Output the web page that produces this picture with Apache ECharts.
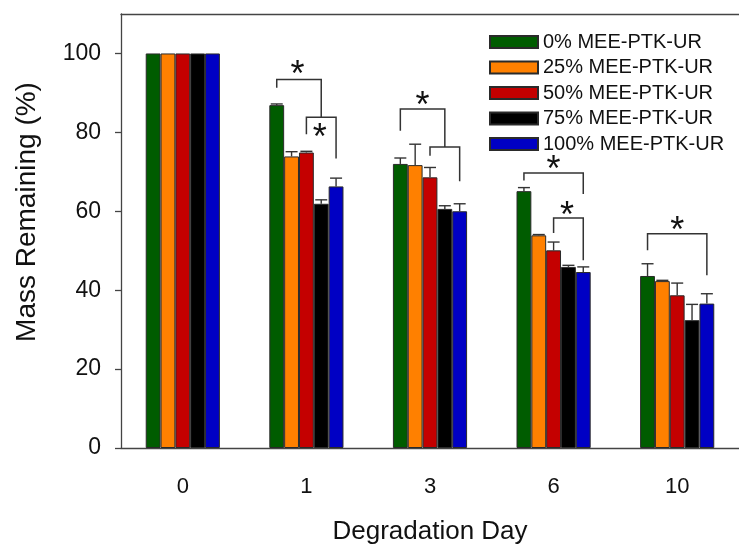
<!DOCTYPE html>
<html>
<head>
<meta charset="utf-8">
<title>Mass Remaining</title>
<script src="https://cdn.jsdelivr.net/npm/echarts@6/dist/echarts.min.js"></script>
<style>
  html, body { margin: 0; padding: 0; background: #fff; }
  #chart { width: 739px; height: 550px; }
</style>
</head>
<body>
<div id="chart"></div>
<script>
// 横轴分类与刻度
const days = ['0', '1', '3', '6', '10']
const yTicks = [0, 20, 40, 60, 80, 100]

// 各组名称
const groups = ['0% MEE-PTK-UR', '25% MEE-PTK-UR', '50% MEE-PTK-UR', '75% MEE-PTK-UR', '100% MEE-PTK-UR']
const colors = ['#005c00', '#ff8000', '#c40000', '#000000', '#0000c4']

// 剩余质量 (%)
const mee0 = [100, 86.9, 72.0, 65.1, 43.6]
const mee25 = [100, 73.9, 71.7, 53.9, 42.3]
const mee50 = [100, 74.9, 68.6, 50.1, 38.7]
const mee75 = [100, 61.9, 60.6, 45.9, 32.4]
const mee100 = [100, 66.3, 60.0, 44.6, 36.6]

// 误差 (只画上半)
const err0 = [0, 0.3, 1.5, 0.9, 3.1]
const err25 = [0, 1.2, 5.3, 0.2, 0.2]
const err50 = [0, 0.3, 2.5, 2.1, 3.1]
const err75 = [0, 1.0, 0.8, 0.4, 4.0]
const err100 = [0, 2.1, 1.9, 1.3, 2.5]

// 显著性括号: [日序号, 起始柱, 结束柱, 横线高度, 左腿底, 右腿底]
const brackets = [
  [1, 0, 3, 93.4, 91.3, 83.8],
  [1, 2, 4, 83.8, 79.5, 73.4],
  [2, 0, 3, 85.9, 80.4, 76.3],
  [2, 2, 4, 76.3, 74.1, 67.6],
  [3, 0, 4, 69.7, 67.8, 64.4],
  [3, 2, 4, 58.3, 54.5, 47.6],
  [4, 0, 4, 54.3, 50.1, 43.8]
]
// 星号: [日序号, 柱位置, 高度]
const stars = [
  [1, 1.4, 96.2],
  [1, 2.9, 80.4],
  [2, 1.5, 88.4],
  [3, 2.0, 72.2],
  [3, 2.9, 60.6],
  [4, 2.0, 56.8]
]

const values = [mee0, mee25, mee50, mee75, mee100]
const errors = [err0, err25, err50, err75, err100]

const FONT = 'Liberation Sans, Arial, sans-serif'
const GAP = 0.4 // barCategoryGap

const chart = echarts.init(document.getElementById('chart'))

// 柱在类目内的横向偏移
const slotX = (api, cat, pos) => {
  const band = api.size([1, 0])[0]
  const bw = band * (1 - GAP) / groups.length
  return api.coord([cat, 0])[0] + (pos - (groups.length - 1) / 2) * bw
}

const errData = []
errors.forEach((arr, s) => {
  arr.forEach((e, i) => {
    if (e > 0) errData.push([i, values[s][i], e, s])
  })
})

const barSeries = groups.map((name, s) => ({
  name,
  type: 'bar',
  data: values[s],
  barGap: 0,
  barCategoryGap: '40%',
  itemStyle: { color: colors[s], borderColor: '#2a2a2a', borderWidth: 1 }
}))

const option = {
  animation: false,
  textStyle: { fontFamily: FONT },
  grid: { left: 121, top: 14, width: 620, bottom: 100 },
  legend: {
    orient: 'vertical',
    left: 484,
    top: 27,
    itemWidth: 48,
    itemHeight: 12,
    itemGap: 5.5,
    icon: 'rect',
    textStyle: { fontSize: 20, color: '#111', fontFamily: FONT },
    data: groups
  },
  xAxis: [{
    type: 'category',
    data: days,
    name: 'Degradation Day',
    nameLocation: 'middle',
    nameGap: 71,
    nameTextStyle: { fontSize: 26, color: '#111', fontFamily: FONT },
    axisLine: { lineStyle: { color: '#444', width: 1.3 } },
    axisTick: { alignWithLabel: true, length: 6, lineStyle: { color: '#444', width: 1.3 } },
    axisLabel: { fontSize: 22, color: '#111', margin: 28, fontFamily: FONT }
  }, {
    type: 'category',
    data: days,
    position: 'top',
    axisLine: { lineStyle: { color: '#444', width: 1.3 } },
    axisTick: { show: false },
    axisLabel: { show: false }
  }],
  yAxis: {
    type: 'value',
    min: 0,
    max: 110,
    interval: 20,
    name: 'Mass Remaining (%)',
    nameLocation: 'middle',
    nameGap: 80,
    nameTextStyle: { fontSize: 28, color: '#111', fontFamily: FONT, padding: [0, 0, 0, 38] },
    axisLine: { show: true, lineStyle: { color: '#444', width: 1.3 } },
    axisTick: { show: true, length: 6, customValues: yTicks, lineStyle: { color: '#444', width: 1.3 } },
    axisLabel: { fontSize: 23, color: '#111', margin: 20, customValues: yTicks, fontFamily: FONT },
    splitLine: { show: false }
  },
  series: [
    ...barSeries,
    {
      // 误差线
      type: 'custom',
      silent: true,
      z: 5,
      encode: { x: 0, y: 1 },
      data: errData,
      renderItem: (params, api) => {
        const cat = api.value(0)
        const v = api.value(1)
        const e = api.value(2)
        const x = slotX(api, cat, api.value(3))
        const y0 = api.coord([cat, v])[1]
        const y1 = api.coord([cat, v + e])[1]
        const style = { stroke: '#333', lineWidth: 1.4 }
        return {
          type: 'group',
          children: [
            { type: 'line', shape: { x1: x, y1: y0, x2: x, y2: y1 }, style },
            { type: 'line', shape: { x1: x - 6, y1: y1, x2: x + 6, y2: y1 }, style }
          ]
        }
      }
    },
    {
      // 显著性括号
      type: 'custom',
      silent: true,
      z: 6,
      encode: { x: 0, y: 3 },
      data: brackets,
      renderItem: (params, api) => {
        const cat = api.value(0)
        const xa = slotX(api, cat, api.value(1))
        const xb = slotX(api, cat, api.value(2))
        const yt = api.coord([cat, api.value(3)])[1]
        const yl = api.coord([cat, api.value(4)])[1]
        const yr = api.coord([cat, api.value(5)])[1]
        return {
          type: 'polyline',
          shape: { points: [[xa, yl], [xa, yt], [xb, yt], [xb, yr]] },
          style: { stroke: '#333', lineWidth: 1.5, fill: null }
        }
      }
    },
    {
      // 星号
      type: 'custom',
      silent: true,
      z: 6,
      encode: { x: 0, y: 2 },
      data: stars,
      renderItem: (params, api) => {
        const cat = api.value(0)
        const x = slotX(api, cat, api.value(1))
        const y = api.coord([cat, api.value(2)])[1]
        return {
          type: 'text',
          style: {
            x, y: y + 8,
            text: '*',
            fontSize: 36,
            fontFamily: FONT,
            fill: '#111',
            align: 'center',
            verticalAlign: 'middle'
          }
        }
      }
    }
  ]
}

chart.setOption(option)
window.addEventListener('resize', () => chart.resize())
</script>
</body>
</html>
